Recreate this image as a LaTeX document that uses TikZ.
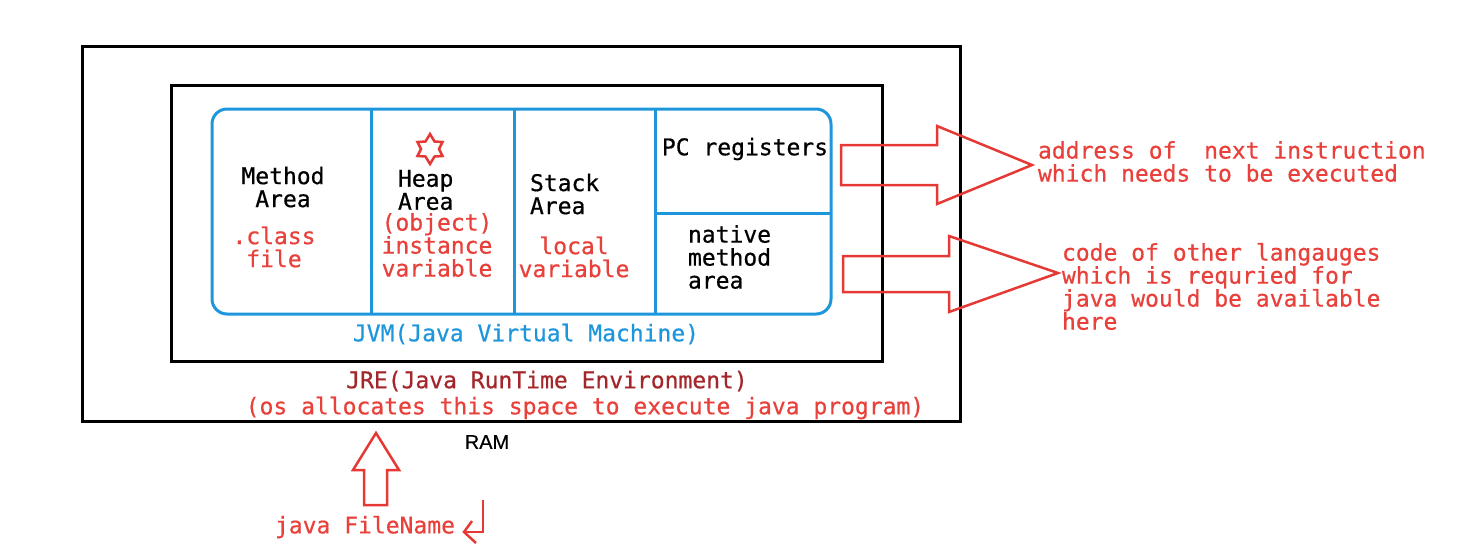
\documentclass[tikz,border=0pt]{standalone}
\usepackage{fontspec}
\setmonofont{DejaVu Sans Mono}[FakeBold=0.6]
\newfontfamily\ramfont{Liberation Sans}[FakeBold=0.6]
\definecolor{jblue}{HTML}{1E96DC}
\definecolor{jred}{HTML}{E8403A}
\definecolor{jdred}{HTML}{A3262A}
\definecolor{ared}{HTML}{E53935}
\begin{document}
\begin{tikzpicture}[x=1pt,y=-1pt,
  txt/.style={font=\fontsize{23}{23}\selectfont\ttfamily, inner sep=0pt, outer sep=0pt},
  blk/.style={txt, text=black},
  rd/.style={txt, text=jred},
  boxline/.style={draw=black, line width=3pt},
  jvmline/.style={draw=jblue, line width=3pt},
  blockarrow/.style={draw=ared, line width=2.5pt, line join=miter}]
\useasboundingbox (0,0) rectangle (1472,552);
% RAM / JRE / JVM boxes
\draw[boxline] (82,46) rectangle (960,421);
\draw[boxline] (171,85) rectangle (882,361);
\draw[jvmline, rounded corners=15pt] (212,109) rectangle (831,314);
\draw[jvmline] (371,109) -- (371,314);
\draw[jvmline] (514,109) -- (514,314);
\draw[jvmline] (655,109) -- (655,314);
\draw[jvmline] (655,213) -- (831,213);
% texts in JVM
\node[blk, align=center] (method) at (283,187) {Method\\Area};
\node[rd, align=center] (classf) at (274,247) {.class\\file};
\draw[draw=ared, line width=2.5pt, line join=miter]
  (430,134) -- (434.5,141.5) -- (442.5,142) -- (439,149) -- (442.5,156) -- (434.5,156.5) --
  (430,164) -- (425.5,156.5) -- (417.5,156) -- (421,149) -- (417.5,142) -- (425.5,141.5) -- cycle;
\node[blk, align=left, anchor=west] (heap) at (398,190) {Heap\\Area};
\node[rd, align=left] (inst) at (437,245) {(object)\\instance\\variable};
\node[blk, align=left, anchor=west] (stack) at (530,194) {Stack\\Area};
\node[rd, align=center] (local) at (574,257) {local\\variable};
\node[blk] (pc) at (745,149) {PC registers};
\node[blk, align=left, anchor=west] (native) at (688,257) {native\\method\\area};
\node[txt, text=jblue] (jvm) at (526,334) {JVM(Java Virtual Machine)};
\node[txt, text=jdred] (jre) at (547,381) {JRE(Java RunTime Environment)};
\node[rd] (os) at (585,408) {(os allocates this space to execute java program)};
\node[font=\ramfont\fontsize{20}{20}\selectfont, inner sep=0pt] (ram) at (487,442) {RAM};
% right block arrows
\draw[blockarrow] (841,145) -- (937,145) -- (937,126) -- (1032,165) -- (937,204) -- (937,185) -- (841,185) -- cycle;
\draw[blockarrow] (843,256) -- (949,256) -- (949,236) -- (1058,273) -- (949,312) -- (949,292) -- (843,292) -- cycle;
\node[rd, align=left, anchor=west] (addr) at (1038,161.5) {address of\ \ next instruction\\which needs to be executed};
\node[rd, align=left, anchor=west] (code) at (1062,286.5) {code of other langauges\\which is requried for\\java would be available\\here};
% up arrow
\draw[blockarrow] (364,505) -- (364,470) -- (353,470) -- (376,433) -- (399,470) -- (387,470) -- (387,505) -- cycle;
\node[rd] (jfile) at (365,527) {java FileName};
\draw[draw=ared, line width=2.5pt] (483,500) -- (483,532) -- (466,532);
\draw[draw=ared, line width=2.5pt] (472,521) -- (464,532) -- (476,543);
\end{tikzpicture}
\end{document}
